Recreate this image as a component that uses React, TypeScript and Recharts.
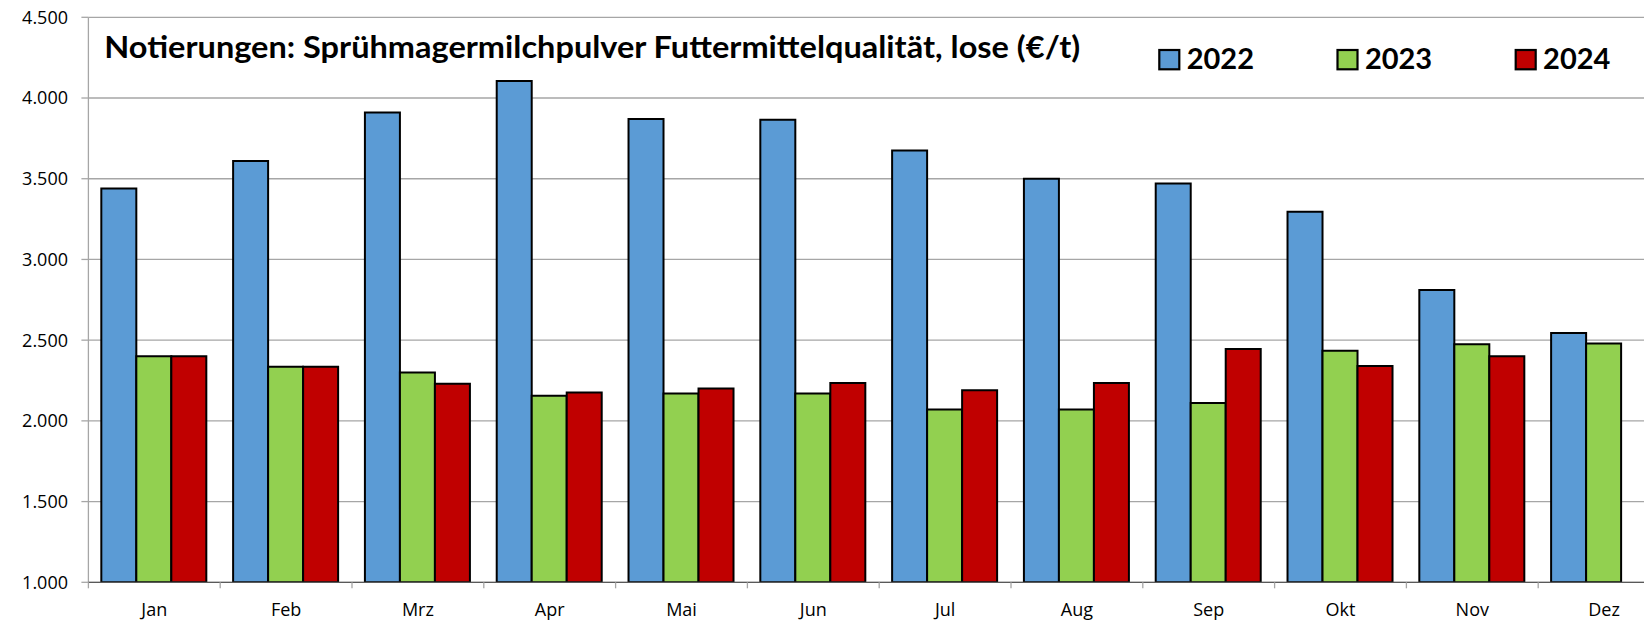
import React from 'react';
import { BarChart, Bar, XAxis, YAxis, CartesianGrid } from 'recharts';

const months = ['Jan', 'Feb', 'Mrz', 'Apr', 'Mai', 'Jun', 'Jul', 'Aug', 'Sep', 'Okt', 'Nov', 'Dez'];
const values2022 = [3440, 3610, 3910, 4105, 3870, 3865, 3675, 3500, 3470, 3295, 2810, 2545];
const values2023 = [2400, 2335, 2300, 2155, 2170, 2170, 2070, 2070, 2110, 2435, 2475, 2480];
const values2024: (number | null)[] = [2400, 2335, 2230, 2175, 2200, 2235, 2190, 2235, 2445, 2340, 2400, null];
const yTicks = [1000, 1500, 2000, 2500, 3000, 3500, 4000, 4500];
const seriesNames = ['2022', '2023', '2024'];
const seriesKeys = ['y2022', 'y2023', 'y2024'];
const seriesColors = ['#5B9BD5', '#92D050', '#C00000'];
const title = 'Notierungen: Sprühmagermilchpulver Futtermittelqualität, lose (€/t)';

const data = months.map((m, i) => ({
  month: m,
  y2022: values2022[i],
  y2023: values2023[i],
  y2024: values2024[i],
}));

const fmt = (v: number) => {
  const s = String(Math.round(v));
  return s.length > 3 ? s.slice(0, s.length - 3) + '.' + s.slice(s.length - 3) : s;
};

const TICK_SIZE = 6;
const TICK_MARGIN = 15;

const XTick = (props: any) => {
  const { x, y, payload } = props;
  const half = payload && typeof payload.offset === 'number' ? payload.offset : 65.9;
  const axisY = y - TICK_SIZE - TICK_MARGIN;
  return (
    <g>
      <line x1={x - half} x2={x - half} y1={axisY} y2={axisY + 6} stroke="#a6a6a6" strokeWidth={1.3} />
      <text
        x={x}
        y={y}
        dy={12.8}
        textAnchor="middle"
        fill="#000"
        style={{ fontFamily: '"Open Sans", sans-serif', fontSize: 18 }}
      >
        {payload.value}
      </text>
    </g>
  );
};

export default function App() {
  return (
    <div
      style={{
        position: 'fixed',
        left: 0,
        top: 0,
        width: 1644,
        height: 621,
        overflow: 'hidden',
        background: '#fff',
      }}
    >
      <BarChart
        width={1680}
        height={621}
        data={data}
        margin={{ top: 17.3, right: 10, left: 0, bottom: 0 }}
        barCategoryGap="9.8%"
        barGap={0}
      >
        <CartesianGrid vertical={false} stroke="#a6a6a6" strokeWidth={1.3} />
        <YAxis
          width={88.4}
          domain={[1000, 4500]}
          ticks={yTicks}
          interval={0}
          allowDataOverflow
          tickFormatter={fmt}
          tickSize={7}
          tickMargin={13.4}
          axisLine={{ stroke: '#a6a6a6', strokeWidth: 1.3 }}
          tickLine={{ stroke: '#a6a6a6', strokeWidth: 1.3 }}
          tick={{ fill: '#000', fontSize: 18, fontFamily: '"Open Sans", sans-serif' }}
        />
        <XAxis
          dataKey="month"
          height={38.7}
          interval={0}
          tickSize={TICK_SIZE}
          tickMargin={TICK_MARGIN}
          tickLine={false}
          axisLine={{ stroke: '#595959', strokeWidth: 1.3 }}
          tick={<XTick />}
        />
        {seriesKeys.map((k, i) => (
          <Bar
            key={k}
            dataKey={k}
            name={seriesNames[i]}
            fill={seriesColors[i]}
            stroke="#000"
            strokeWidth={2}
            isAnimationActive={false}
          />
        ))}
      </BarChart>
      <svg
        width={1644}
        height={80}
        style={{ position: 'absolute', left: 0, top: 0, pointerEvents: 'none' }}
      >
        <text
          x={104.3}
          y={58.3}
          textLength={976}
          lengthAdjust="spacingAndGlyphs"
          fill="#000"
          style={{ fontFamily: 'Lato, sans-serif', fontWeight: 700, fontSize: 30 }}
        >
          {title}
        </text>
        {seriesNames.map((name, i) => (
          <g key={name}>
            <rect
              x={1159.3 + i * 178.2}
              y={50}
              width={20}
              height={19.3}
              fill={seriesColors[i]}
              stroke="#000"
              strokeWidth={2.2}
            />
            <text
              x={1186.7 + i * 178.2}
              y={69.3}
              fill="#000"
              style={{ fontFamily: 'Lato, sans-serif', fontWeight: 700, fontSize: 29 }}
            >
              {name}
            </text>
          </g>
        ))}
      </svg>
    </div>
  );
}
